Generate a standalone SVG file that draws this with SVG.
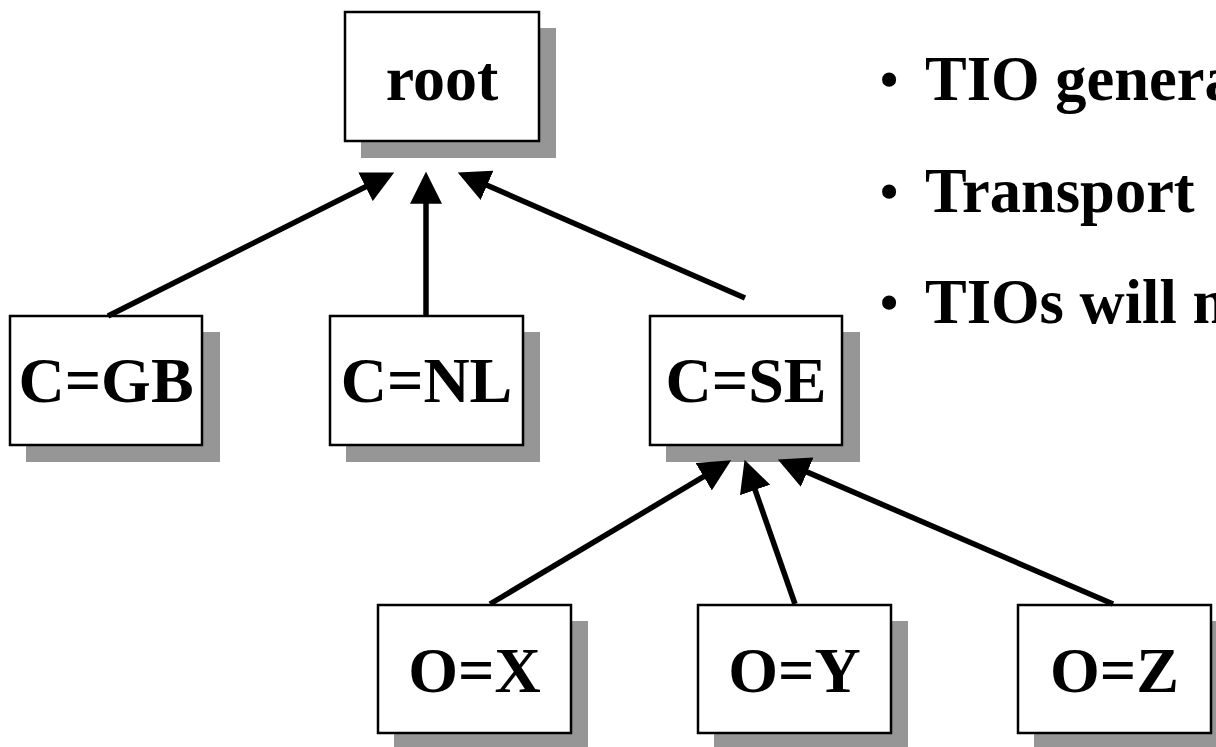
<svg xmlns="http://www.w3.org/2000/svg" width="1216" height="747" viewBox="0 0 1216 747">
<style>
.box{fill:#fff;stroke:#000;stroke-width:2.5}
.sh{fill:#969696}
.lbl{font-family:"Liberation Serif",serif;font-weight:bold;font-size:64px;text-anchor:middle;fill:#000}
.bul{font-family:"Liberation Serif",serif;font-weight:bold;font-size:62.5px;fill:#000}
.bdot{font-family:"Liberation Serif",serif;font-weight:bold;font-size:52px;fill:#000}
.edge{stroke:#000;stroke-width:5.5;fill:none;marker-end:url(#ah)}
</style>
<defs>
<marker id="ah" markerUnits="userSpaceOnUse" markerWidth="32" markerHeight="32" viewBox="0 0 30 30" refX="10" refY="15" orient="auto">
<path d="M0,0 L30,15 L0,30 z" fill="#000"/>
</marker>
</defs>
<rect width="1216" height="747" fill="#fff"/>
<g id="root"><rect class="sh" x="361" y="28" width="195" height="130"/><rect class="box" x="345" y="12" width="194" height="129"/><text class="lbl" x="442" y="100">root</text></g>
<g id="cgb"><rect class="sh" x="26" y="332" width="194" height="130"/><rect class="box" x="10" y="316" width="192" height="129"/><text class="lbl" x="106" y="402">C=GB</text></g>
<g id="cnl"><rect class="sh" x="346" y="332" width="194" height="130"/><rect class="box" x="330" y="316" width="193" height="129"/><text class="lbl" x="426.5" y="402">C=NL</text></g>
<g id="cse"><rect class="sh" x="666" y="332" width="194" height="130"/><rect class="box" x="650" y="316" width="192" height="129"/><text class="lbl" x="746" y="402">C=SE</text></g>
<g id="ox"><rect class="sh" x="394" y="621" width="194" height="126"/><rect class="box" x="378" y="605" width="193" height="128"/><text class="lbl" x="474.5" y="692">O=X</text></g>
<g id="oy"><rect class="sh" x="714" y="621" width="194" height="126"/><rect class="box" x="698" y="605" width="193" height="128"/><text class="lbl" x="794.5" y="692">O=Y</text></g>
<g id="oz"><rect class="sh" x="1034" y="621" width="194" height="126"/><rect class="box" x="1018" y="605" width="193" height="128"/><text class="lbl" x="1114.5" y="692">O=Z</text></g>
<g id="connectors">
<line class="edge" x1="108" y1="316" x2="375.1" y2="182"/>
<line class="edge" x1="426" y1="316" x2="426" y2="193"/>
<line class="edge" x1="745" y1="298" x2="477.3" y2="181"/>
<line class="edge" x1="490" y1="604" x2="712.8" y2="471.2"/>
<line class="edge" x1="795" y1="604" x2="751.6" y2="479.9"/>
<line class="edge" x1="1113" y1="604" x2="797.4" y2="467.9"/>
</g>
<g id="bullets">
<text class="bdot" x="880" y="97">•</text><text class="bul" x="925" y="100">TIO genera</text>
<text class="bdot" x="880" y="209">•</text><text class="bul" x="925" y="212">Transport</text>
<text class="bdot" x="880" y="320">•</text><text class="bul" x="925" y="323">TIOs will m</text>
</g>
</svg>
